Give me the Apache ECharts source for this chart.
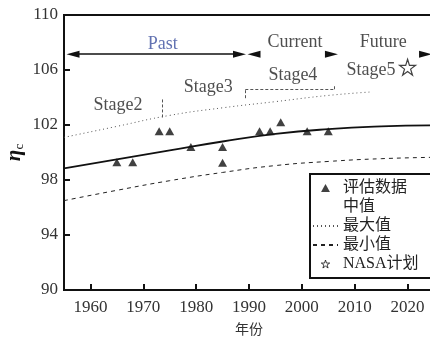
<!DOCTYPE html>
<html>
<head>
<meta charset="utf-8">
<script src="https://cdn.jsdelivr.net/npm/echarts@6/dist/echarts.min.js"></script>
<style>
  html, body { margin: 0; padding: 0; background: #fff; }
  #chart { width: 430px; height: 340px; }
</style>
</head>
<body>
<div id="chart"></div>
<script>
// Efficiency trend: assessed data points, median / max / min envelopes, NASA target
const xTicks = [1960, 1970, 1980, 1990, 2000, 2010, 2020];

const estYears  = [1965, 1968, 1973, 1975, 1979, 1985, 1985, 1992, 1994, 1996, 2001, 2005];
const estValues = [99.3, 99.3, 101.55, 101.55, 100.4, 100.4, 99.25, 101.55, 101.55, 102.2, 101.55, 101.55];

const midYears  = [1955, 1965, 1975, 1985, 1995, 2005, 2015, 2025];
const midValues = [98.85, 99.5, 100.15, 100.8, 101.35, 101.7, 101.9, 101.98];

const maxYears  = [1955, 1965, 1975, 1985, 1995, 2005, 2013];
const maxValues = [101.1, 101.9, 102.7, 103.25, 103.7, 104.15, 104.4];

const minYears  = [1955, 1965, 1975, 1985, 1995, 2005, 2015, 2025];
const minValues = [96.5, 97.25, 97.95, 98.55, 99.05, 99.35, 99.55, 99.65];

const nasaYears  = [2020];
const nasaValues = [106.2];

const seriesNames = ['评估数据', '中值', '最大值', '最小值', 'NASA计划'];

const SERIF = '"Liberation Serif", "Noto Sans CJK SC"';
const STAR = 'path://M50 0L61.2 34.5L97.6 34.5L68.2 55.9L79.4 90.5L50 69.1L20.6 90.5L31.8 55.9L2.4 34.5L38.8 34.5Z';
const TRI = 'path://M50 0L100 90L0 90Z';

const zip = (xs, ys) => xs.map((x, i) => [x, ys[i]]);

// Era / stage annotations (data coordinates)
const ARROW_Y = 107.15;
const notes = [
  { name: 'Past',    value: [1973.7, 107.85], label: { color: '#3b4f9e' } },
  { name: 'Current', value: [1998.7, 108.0] },
  { name: 'Future',  value: [2015.4, 108.0] },
  { name: 'Stage2',  value: [1965.2, 103.45] },
  { name: 'Stage3',  value: [1982.3, 104.75] },
  { name: 'Stage4',  value: [1998.3, 105.6] },
  { name: 'Stage5',  value: [2013.1, 106.0] }
];

const arrowStyle = { color: '#111', width: 1.5, type: 'solid' };
const bracketStyle = { color: '#555', width: 1, type: [3, 2] };
const seg = (a, b, symA, symB, style) => [
  { coord: a, symbol: symA },
  { coord: b, symbol: symB, lineStyle: style }
];
const guideLines = [
  seg([1956.7, ARROW_Y], [1988.2, ARROW_Y], 'triangle', 'triangle', arrowStyle),
  seg([1991.6, ARROW_Y], [1990.95, ARROW_Y], 'none', 'triangle', arrowStyle),
  seg([2005.0, ARROW_Y], [2005.6, ARROW_Y], 'none', 'triangle', arrowStyle),
  seg([2022.8, ARROW_Y], [2023.4, ARROW_Y], 'none', 'triangle', arrowStyle),
  seg([1973.5, 102.55], [1973.5, 103.95], 'none', 'none', bracketStyle),
  seg([1989.3, 103.95], [1989.3, 104.6], 'none', 'none', bracketStyle),
  seg([1989.3, 104.6], [2006.1, 104.6], 'none', 'none', bracketStyle),
  seg([2006.1, 104.6], [2006.1, 104.95], 'none', 'none', bracketStyle)
];

const chart = echarts.init(document.getElementById('chart'), null, { renderer: 'canvas' });

chart.setOption({
  animation: false,
  backgroundColor: '#fff',
  grid: {
    left: 64, right: -4, top: 15, bottom: 50,
    containLabel: false, outerBoundsMode: 'none',
    show: true, borderColor: '#111', borderWidth: 2
  },
  xAxis: {
    type: 'value', min: 1955, max: 2025,
    name: '年份', nameLocation: 'middle', nameGap: 33,
    nameTextStyle: { fontFamily: SERIF, fontSize: 14, color: '#333' },
    axisLine: { show: true, lineStyle: { color: '#111', width: 2 } },
    axisTick: { show: true, inside: true, length: 6, customValues: xTicks, lineStyle: { color: '#111', width: 2 } },
    axisLabel: {
      customValues: xTicks, margin: 9, fontFamily: SERIF, fontSize: 17, color: '#333',
      formatter: v => String(v)
    },
    splitLine: { show: false }
  },
  yAxis: {
    type: 'value', min: 90, max: 110, interval: 4,
    name: '{e|η}{s|c}', nameLocation: 'middle', nameGap: 38, nameRotate: 90,
    nameMoveOverlap: false,
    nameTextStyle: {
      rich: {
        e: { fontFamily: 'Liberation Serif', fontStyle: 'italic', fontWeight: 'bold', fontSize: 21, color: '#111' },
        s: { fontFamily: 'Liberation Serif', fontSize: 13, color: '#111', padding: [9, 0, 0, 0] }
      }
    },
    axisLine: { show: true, lineStyle: { color: '#111', width: 2 } },
    axisTick: { show: true, inside: true, length: 6, lineStyle: { color: '#111', width: 2 } },
    axisLabel: { margin: 6, fontFamily: SERIF, fontSize: 17, color: '#333' },
    splitLine: { show: false }
  },
  legend: {
    orient: 'vertical', left: 310, top: 174,
    padding: [6, 40, 6, 2],
    itemGap: 3, itemWidth: 25, itemHeight: 8,
    symbolKeepAspect: true,
    borderColor: '#111', borderWidth: 2, backgroundColor: '#fff',
    textStyle: { fontFamily: SERIF, fontSize: 16, lineHeight: 14, color: '#222' },
    data: [
      { name: '评估数据' },
      { name: '中值', itemStyle: { opacity: 0 }, lineStyle: { opacity: 0 } },
      { name: '最大值', itemStyle: { opacity: 0 } },
      { name: '最小值', itemStyle: { opacity: 0 } },
      { name: 'NASA计划', itemStyle: { color: '#fff', borderColor: '#111', borderWidth: 1 } }
    ]
  },
  series: [
    {
      name: seriesNames[1], type: 'line', smooth: true, symbol: 'none', showSymbol: false,
      itemStyle: { color: '#111' },
      lineStyle: { color: '#111', width: 1.8 },
      data: zip(midYears, midValues)
    },
    {
      name: seriesNames[2], type: 'line', smooth: true, symbol: 'none', showSymbol: false,
      itemStyle: { color: '#555' },
      lineStyle: { color: '#555', width: 1, type: [1, 3] },
      data: zip(maxYears, maxValues)
    },
    {
      name: seriesNames[3], type: 'line', smooth: true, symbol: 'none', showSymbol: false,
      itemStyle: { color: '#222' },
      lineStyle: { color: '#222', width: 1, type: [4, 4] },
      data: zip(minYears, minValues)
    },
    {
      name: seriesNames[0], type: 'scatter', symbol: TRI, symbolSize: [9, 8],
      itemStyle: { color: '#111' },
      data: zip(estYears, estValues)
    },
    {
      name: seriesNames[4], type: 'scatter', symbol: STAR, symbolSize: 16,
      itemStyle: { color: '#fff', borderColor: '#111', borderWidth: 1.2 },
      data: zip(nasaYears, nasaValues)
    },
    {
      name: 'notes', type: 'scatter', symbolSize: 1, silent: true,
      itemStyle: { color: 'rgba(0,0,0,0)' },
      label: {
        show: true, position: 'inside', formatter: '{b}',
        fontFamily: SERIF, fontSize: 18, color: '#222'
      },
      data: notes,
      markLine: {
        silent: true, animation: false,
        symbolSize: [7, 13],
        label: { show: false },
        emphasis: { disabled: true },
        data: guideLines
      }
    }
  ]
});
</script>
</body>
</html>
